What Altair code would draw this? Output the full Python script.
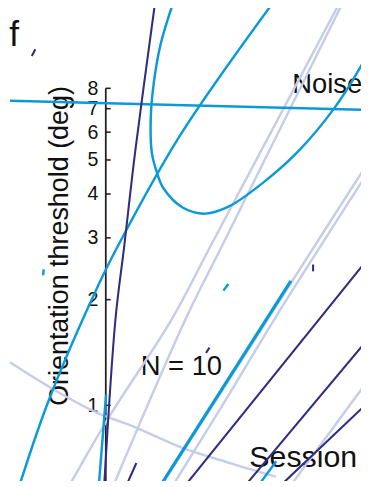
import altair as alt
import pandas as pd

# ---- axis ticks (deg) ----
tick_values = [1, 2, 3, 4, 5, 6, 7, 8]
axis_top, axis_bottom = 8, 0.6063

# ---- light lavender curves: session / threshold (deg) ----
light_a_x = [23.77, 10.77, 6.8, 0.2, -3.5]
light_a_y = [13.78, 2.862, 1.770, 0.914, 0.6063]
light_b_x = [24.1, 11.93, 8.2, 0.95]
light_b_y = [13.78, 2.862, 1.770, 0.6063]
light_c_x = [27.5, 19.06, 5.94]
light_c_y = [5.265, 2.259, 0.6063]
light_d_x = [27.5, 17.3, 12.6, 7.1]
light_d_y = [4.939, 1.770, 1.073, 0.6063]
light_e_x = [26.7, 19.2]
light_e_y = [1.166, 0.6063]
light_arc_x = [-9.8, -5.3, -0.8, 2.9, 7.7, 12.7, 17.4]
light_arc_y = [1.326, 1.108, 0.950, 0.8686, 0.7589, 0.6848, 0.6263]

# ---- cyan curves ----
cyan_flat_x = [-9.8, 26.1]
cyan_flat_y = [7.375, 6.953]
cyan_u_x = [6.8, 5.6, 4.9, 4.6, 4.7, 5.2, 5.9, 7.9, 10.2, 12.7, 16.0, 19.6, 23.3, 26.1, 27.2]
cyan_u_y = [13.78, 10.66, 8.25, 6.59, 5.265, 4.631, 4.153, 3.654, 3.516, 3.700, 4.289, 5.265, 6.98, 9.26, 10.66]
cyan_long_x = [16.9, 7.6, 1.4, -0.8, -5.8, -8.7]
cyan_long_y = [13.78, 5.873, 2.900, 2.187, 1.039, 0.6063]
cyan_dash1_x = [-6.35, -6.4]
cyan_dash1_y = [2.439, 2.347]
cyan_dash2_x = [12.03, 12.53]
cyan_dash2_y = [2.122, 2.215]
cyan_axis_x = [0.03, -0.68]
cyan_axis_y = [1.073, 0.6063]
cyan_short_x = [17.43, 15.9]
cyan_short_y = [0.6925, 0.6063]
cyan_thick_x = [18.93, 5.85]
cyan_thick_y = [2.262, 0.6063]

# ---- dark navy curves ----
dark_steep_x = [5.0, 3.0, 1.9, 1.0, -0.14]
dark_steep_y = [13.78, 5.265, 2.862, 1.770, 0.6063]
dark_dash1_x = [-7.57, -7.2]
dark_dash1_y = [9.89, 10.33]
dark_seg_x = [2.28, 3.13]
dark_seg_y = [0.6063, 0.6848]
dark_dash2_x = [21.2, 21.2]
dark_dash2_y = [2.518, 2.408]
dark_dash3_x = [10.25, 10.6]
dark_dash3_y = [1.409, 1.460]
dark_1_x = [26.3, 8.2]
dark_1_y = [2.510, 0.5948]
dark_2_x = [26.4, 14.6]
dark_2_y = [1.497, 0.6063]
dark_3_x = [26.4, 18.3]
dark_3_y = [0.9936, 0.6063]

# ---- annotations ----
label_texts = ["Noise", "N = 10"]
label_x = [19.07, 3.57]
label_y = [7.774, 1.217]
session_text, session_x, session_y = ["Session"], [14.68], [0.6675]
panel_text, panel_x, panel_y = ["f"], [-9.87], [10.53]


def frame(series):
    rows = []
    for name, xs, ys in series:
        for i, (x, y) in enumerate(zip(xs, ys)):
            rows.append({"id": name, "i": i, "session": x, "thr": y})
    return pd.DataFrame(rows)


light_df = frame([("a", light_a_x, light_a_y), ("b", light_b_x, light_b_y),
                  ("c", light_c_x, light_c_y), ("d", light_d_x, light_d_y),
                  ("e", light_e_x, light_e_y), ("arc", light_arc_x, light_arc_y)])
cyan_df = frame([("flat", cyan_flat_x, cyan_flat_y), ("u", cyan_u_x, cyan_u_y),
                 ("long", cyan_long_x, cyan_long_y), ("d1", cyan_dash1_x, cyan_dash1_y),
                 ("d2", cyan_dash2_x, cyan_dash2_y), ("ax", cyan_axis_x, cyan_axis_y),
                 ("short", cyan_short_x, cyan_short_y)])
cyan_thick_df = frame([("thick", cyan_thick_x, cyan_thick_y)])
dark_df = frame([("steep", dark_steep_x, dark_steep_y), ("d1", dark_dash1_x, dark_dash1_y),
                 ("seg", dark_seg_x, dark_seg_y), ("d2", dark_dash2_x, dark_dash2_y),
                 ("d3", dark_dash3_x, dark_dash3_y), ("l1", dark_1_x, dark_1_y),
                 ("l2", dark_2_x, dark_2_y), ("l3", dark_3_x, dark_3_y)])

FONT = "Liberation Sans"
x_scale = alt.Scale(domain=[0, 26.1], nice=False, zero=False)
y_scale = alt.Scale(type="log", domain=[0.63, 13.09], nice=False)
X = alt.X("session:Q", scale=x_scale, axis=None)
Y = alt.Y("thr:Q", scale=y_scale, axis=alt.Axis(
    values=tick_values, format="d", ticks=False, tickSize=0, domain=False, grid=False,
    labelFont=FONT, labelFontSize=20, labelColor="#111", labelPadding=8,
    labelOverlap=False, labelBound=False, labelFlush=False,
    title="Orientation threshold (deg)", titleFont=FONT, titleFontSize=27.5,
    titleFontWeight="normal", titleColor="#111", titleAngle=270,
    titleBaseline="alphabetic", titleAlign="center", titleX=-39.5, titleY=237.5))


def lines(df, color, width):
    return alt.Chart(df).mark_line(color=color, strokeWidth=width, clip=False,
                                   interpolate="catmull-rom").encode(
        x=X, y=Y, detail="id:N", order="i:Q")


axis_df = pd.DataFrame({"session": [0], "thr": [axis_top], "thr2": [axis_bottom]})
axis_line = alt.Chart(axis_df).mark_rule(color="#231f20", strokeWidth=1.8, clip=False).encode(
    x=X, y=Y, y2="thr2:Q")
ticks_df = pd.DataFrame({"session": [0] * len(tick_values), "session2": [0.5] * len(tick_values),
                         "thr": tick_values})
tick_marks = alt.Chart(ticks_df).mark_rule(color="#231f20", strokeWidth=1.6, clip=False).encode(
    x=X, x2="session2:Q", y=Y)


def texts(labels, xs, ys, size):
    df = pd.DataFrame({"label": labels, "session": xs, "thr": ys})
    return alt.Chart(df).mark_text(font=FONT, fontSize=size, align="left", baseline="alphabetic",
                                   color="#111", clip=False).encode(x=X, y=Y, text="label:N")


chart = alt.layer(
    texts(label_texts, label_x, label_y, 28),
    texts(session_text, session_x, session_y, 31),
    texts(panel_text, panel_x, panel_y, 36),
    axis_line,
    tick_marks,
    lines(light_df, "#c5cde9", 2.5),
    lines(cyan_df, "#0b9ad7", 2.5),
    lines(cyan_thick_df, "#0b9ad7", 3.2),
    lines(dark_df, "#2e2d80", 2.1),
).properties(
    width=261, height=473,
    autosize=alt.AutoSizeParams(type="none"),
    padding={"left": 100, "top": 0, "right": 0, "bottom": 0},
    background="white",
).configure_view(stroke=None)

chart.save("out.html", embed_options={"renderer": "svg", "actions": False})
